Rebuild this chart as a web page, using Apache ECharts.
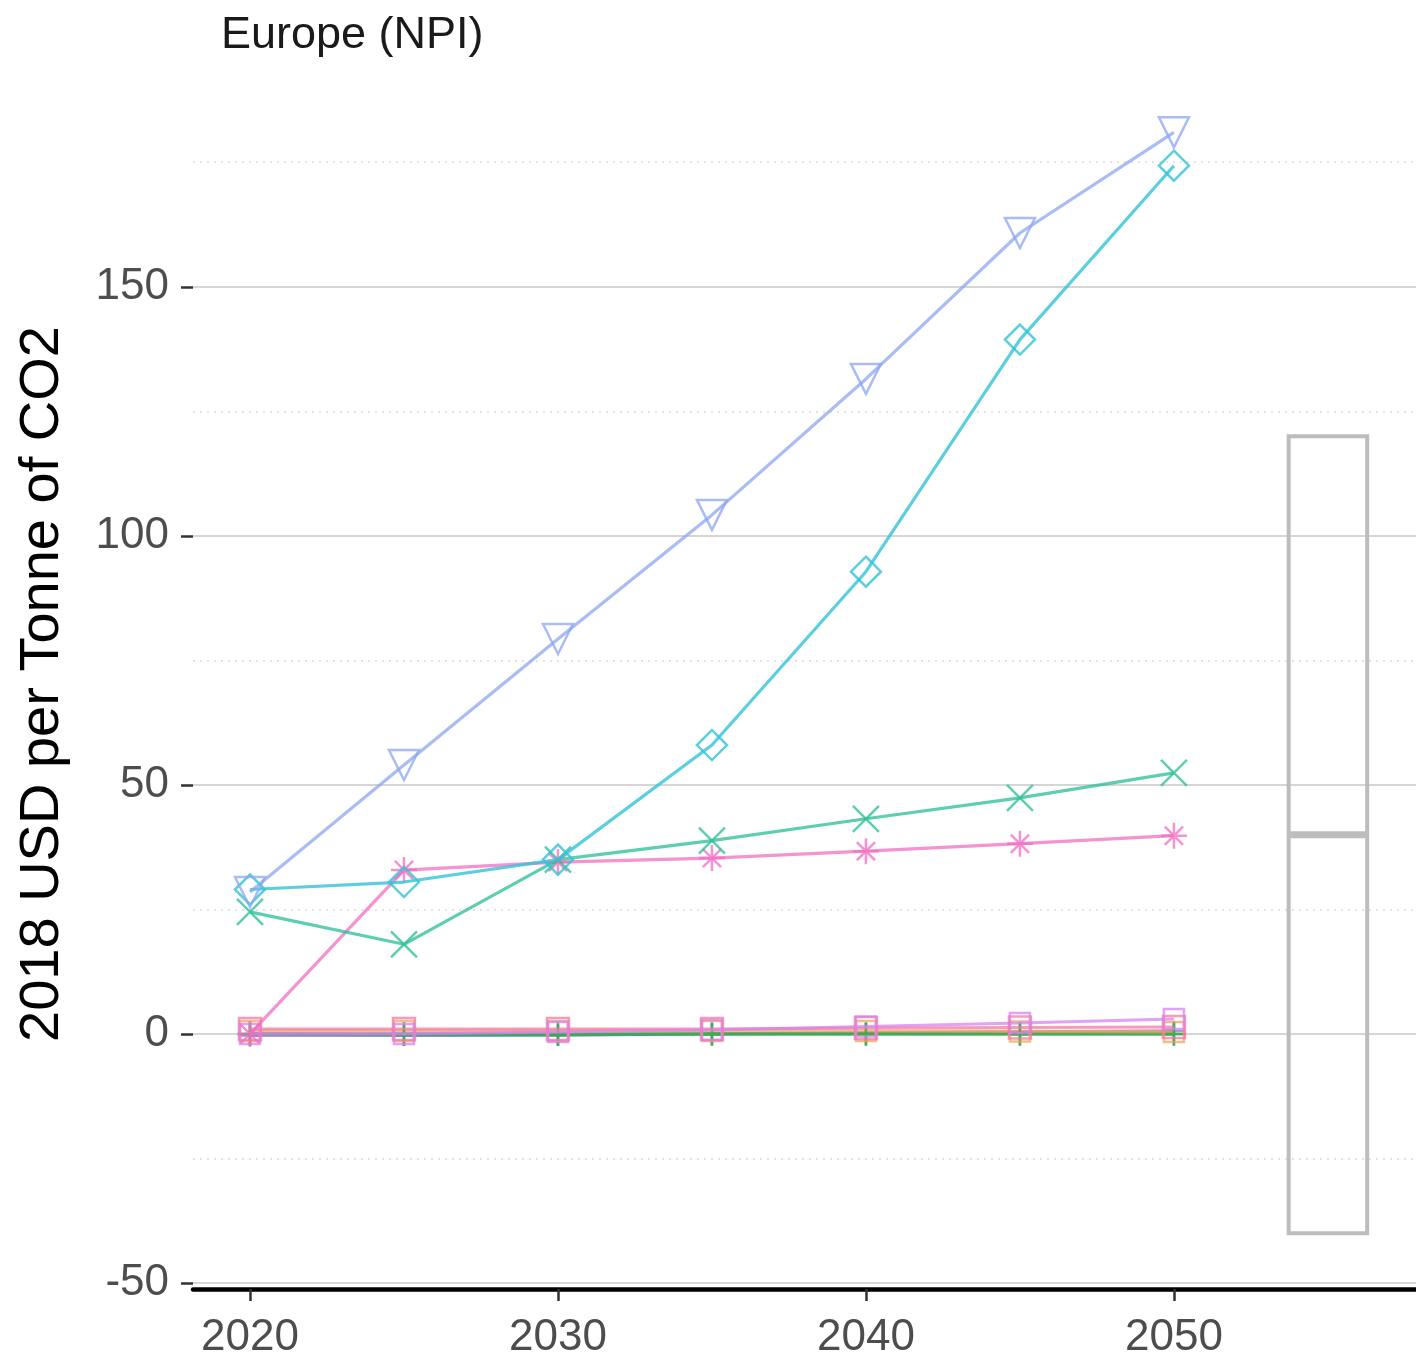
<!DOCTYPE html>
<html>
<head>
<meta charset="utf-8">
<script src="https://cdn.jsdelivr.net/npm/echarts@6/dist/echarts.min.js"></script>
<style>
  html, body { margin: 0; padding: 0; background: #ffffff; }
  #chart { width: 1416px; height: 1360px; }
</style>
</head>
<body>
<div id="chart"></div>
<script>
// Carbon price trajectories, Europe, National Policies Implemented scenario
const years = [2020, 2025, 2030, 2035, 2040, 2045, 2050];

const modelTriangle = [28.5, 54, 79.3, 104.2, 131.5, 160.8, 181];
const modelDiamond  = [29, 30.5, 35, 58, 92.8, 139.4, 174.3];
const modelCross    = [24.5, 18, 35, 38.8, 43.2, 47.4, 52.4];
const modelStar     = [0, 32.9, 34.5, 35.3, 36.7, 38.2, 39.8];
const modelSquare   = [1, 1, 1, 1, 1.2, 1.3, 1.4];
const modelSqCross  = [0, 0, 0.4, 0.8, 1.5, 2.2, 3];
const modelOrange   = [0.6, 0.6, 0.6, 0.6, 0.6, 0.5, 0.4];
const modelPlus     = [0, 0, 0, 0, 0, 0, 0];
const modelTeal     = [0, -0.2, -0.2, 0, 0, 0, 0];
const modelPurple   = [-0.3, -0.3, -0.2, 0, 0.2, 0.4, 0.6];

// Summary box for the 2050 spread across models: [x, lower, median, upper]
const boxSummary = [[2055, -40, 40, 120]];
const boxWidthYears = 2.55;

const yMajorTicks = [-50, 0, 50, 100, 150];
const yMinorLines = [-25, 25, 75, 125, 175];
const xTicks = [2020, 2030, 2040, 2050];

const SYM = {
  triDown: 'path://M0,0 L10,0 L5,8.66 Z',
  diamond: 'path://M5,0 L10,5 L5,10 L0,5 Z',
  cross: 'path://M0,0 L10,10 M10,0 L0,10',
  star: 'path://M5,0 L5,10 M0,5 L10,5 M1.5,1.5 L8.5,8.5 M8.5,1.5 L1.5,8.5',
  square: 'path://M0,0 L10,0 L10,10 L0,10 Z',
  sqCross: 'path://M0,0 L10,0 L10,10 L0,10 Z M0,0 L10,10 M10,0 L0,10',
  plus: 'path://M5,0 L5,10 M0,5 L10,5'
};

function lineSeries(name, values, color, symbol, size, z) {
  return {
    name: name,
    type: 'line',
    data: years.map((y, i) => [y, values[i]]),
    symbol: symbol,
    symbolSize: size,
    showSymbol: true,
    z: z,
    lineStyle: { color: color, width: 3.2 },
    itemStyle: { color: 'rgba(0,0,0,0)', borderColor: color, borderWidth: 2.5 },
    emphasis: { disabled: true },
    animation: false
  };
}

const chart = echarts.init(document.getElementById('chart'), null, { renderer: 'canvas' });

const labelFont = 'Liberation Sans, Arial, Helvetica, sans-serif';

chart.setOption({
  backgroundColor: '#ffffff',
  animation: false,
  title: {
    text: 'Europe (NPI)',
    left: 216,
    top: 8,
    textStyle: { fontFamily: labelFont, fontSize: 45, fontWeight: 'normal', color: '#1a1a1a' }
  },
  grid: {
    left: 193, right: 0, top: 95, bottom: 71,
    containLabel: false,
    outerBoundsMode: 'none'
  },
  xAxis: {
    type: 'value',
    min: 2018.15,
    max: 2057.86,
    axisLine: { show: true, onZero: false, lineStyle: { color: '#000000', width: 4.5 } },
    axisTick: { show: true, length: 12, customValues: xTicks, lineStyle: { color: '#333333', width: 2.5 } },
    axisLabel: {
      customValues: xTicks, margin: 27,
      formatter: v => String(v),
      fontFamily: labelFont, fontSize: 44, color: '#4d4d4d'
    },
    splitLine: { show: false }
  },
  yAxis: [
    {
      type: 'value',
      min: -51.2,
      max: 188.5,
      name: '2018 USD per Tonne of CO2',
      nameLocation: 'middle',
      nameRotate: 90,
      nameGap: 122,
      nameTextStyle: { fontFamily: labelFont, fontSize: 56, color: '#000000', padding: [0, 0, 0, 16] },
      axisLine: { show: false },
      axisTick: { show: true, length: 12, customValues: yMajorTicks, lineStyle: { color: '#333333', width: 2.5 } },
      axisLabel: { customValues: yMajorTicks, margin: 24, fontFamily: labelFont, fontSize: 44, color: '#4d4d4d' },
      splitLine: { show: true, lineStyle: { color: '#d6d6d6', width: 2 } }
    },
    {
      type: 'value',
      min: -51.2,
      max: 188.5,
      position: 'left',
      axisLine: { show: false },
      axisTick: { show: false, customValues: yMinorLines },
      axisLabel: { show: false, customValues: yMinorLines },
      splitLine: { show: true, lineStyle: { color: '#e3e3e3', width: 2, type: [2, 5] } }
    }
  ],
  series: [
    {
      name: 'Range 2050',
      type: 'custom',
      xAxisIndex: 0,
      yAxisIndex: 0,
      z: 1,
      data: boxSummary,
      renderItem: function (params, api) {
        const x = api.value(0);
        const lo = api.coord([x, api.value(1)]);
        const md = api.coord([x, api.value(2)]);
        const hi = api.coord([x, api.value(3)]);
        const w = api.size([boxWidthYears, 0])[0];
        const style = { stroke: '#bdbdbd', fill: 'rgba(0,0,0,0)', lineWidth: 4 };
        return {
          type: 'group',
          children: [
            { type: 'rect', shape: { x: lo[0] - w / 2, y: hi[1], width: w, height: lo[1] - hi[1] }, style: style },
            { type: 'line', shape: { x1: md[0] - w / 2, y1: md[1], x2: md[0] + w / 2, y2: md[1] }, style: { stroke: '#bdbdbd', lineWidth: 7 } }
          ]
        };
      },
      animation: false
    },
    lineSeries('Model I', modelPurple, 'rgba(142,124,195,0.75)', SYM.plus, 20, 2),
    lineSeries('Model H', modelTeal, 'rgba(30,150,135,0.75)', SYM.plus, 22, 2),
    lineSeries('Model G', modelPlus, 'rgba(60,175,70,0.8)', SYM.plus, 24, 3),
    lineSeries('Model F', modelOrange, 'rgba(240,160,90,0.7)', SYM.square, 20, 3),
    lineSeries('Model E', modelSquare, 'rgba(245,120,160,0.75)', SYM.square, 22, 4),
    lineSeries('Model D', modelSqCross, 'rgba(215,130,240,0.75)', SYM.square, 20, 4),
    lineSeries('Model C', modelStar, 'rgba(240,110,195,0.75)', SYM.star, 26, 5),
    lineSeries('Model B', modelCross, 'rgba(40,190,150,0.75)', SYM.cross, 26, 5),
    lineSeries('Model A2', modelDiamond, 'rgba(50,195,215,0.8)', SYM.diamond, 30, 6),
    lineSeries('Model A1', modelTriangle, 'rgba(140,165,240,0.75)', SYM.triDown, 30, 6)
  ]
});
</script>
</body>
</html>
